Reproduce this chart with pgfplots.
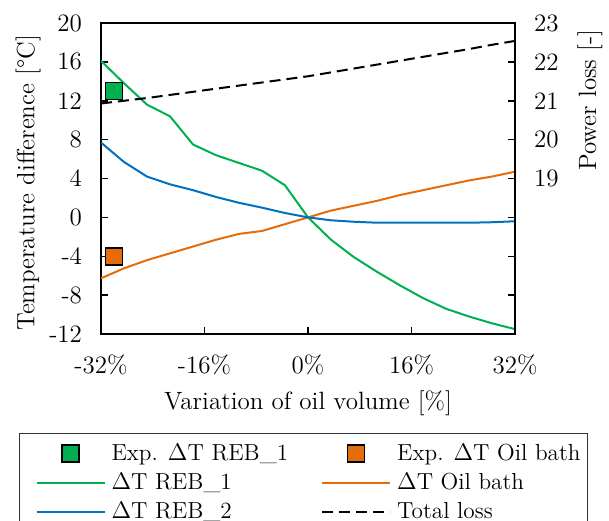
\documentclass[border=0pt]{standalone}
\usepackage{pgfplots}
\pgfplotsset{compat=1.18}
\usepackage{fontspec}
\definecolor{cgreen}{RGB}{0,176,80}
\definecolor{corange}{RGB}{228,108,10}
\definecolor{cblue}{RGB}{0,112,192}
\newcommand{\ff}{\fontsize{12.5}{15}\selectfont}
\newcommand{\lf}{\fontsize{11.6}{14}\selectfont}
\newcommand{\DT}{\ensuremath{\Delta}T}
\pgfplotsset{
  every axis/.append style={font=\ff},
  myaxis/.style={
    scale only axis, width=207pt, height=155.5pt,
    at={(0,0)}, anchor=south west,
    xmin=-32, xmax=32,
    tick align=inside,
    major tick length=3.5pt,
    axis line style={line width=0.75pt, black},
    every tick/.style={line width=0.75pt, black},
  },
  legend image code/.code={\path (0pt,0pt); \draw[mark repeat=2,mark phase=2,#1] plot coordinates {(7.5pt,0pt) (24.5pt,0pt) (41.5pt,0pt)};},
}
\begin{document}
\begin{tikzpicture}[font=\ff]
% --- left axis: simulated temperature differences
\begin{axis}[myaxis,
  ymin=-12, ymax=20,
  xtick={-32,-16,0,16,32},
  xticklabels={-32\%,-16\%,0\%,16\%,32\%},
  ytick={-12,-8,-4,0,4,8,12,16,20},
  yticklabels={-12,-8,-4,0,4,8,12,16,20},
  xtick pos=bottom, ytick pos=left,
  yticklabel style={xshift=-6pt, font=\ff},
  xticklabel style={yshift=-7pt, font=\ff},
  xlabel={Variation of oil volume [\%]},
  ylabel={Temperature difference [°C]},
  every axis x label/.style={at={(axis description cs:0.5,-0.222)}, anchor=center, font=\ff},
  every axis y label/.style={at={(axis description cs:-0.176,0.486)}, rotate=90, anchor=center, font=\ff},
]
\coordinate (SW) at (rel axis cs:0,0);
\addplot[cgreen, line width=1pt] coordinates {
(-32,16.1) (-28.444,13.8) (-24.889,11.6) (-21.333,10.4) (-17.778,7.5) (-14.222,6.4)
(-10.667,5.6) (-7.111,4.8) (-3.556,3.3) (0,0) (3.556,-2.3) (7.111,-4.1) (10.667,-5.6)
(14.222,-7.0) (17.778,-8.3) (21.333,-9.4) (24.889,-10.2) (28.444,-10.9) (32,-11.5)};
\addplot[corange, line width=1pt] coordinates {
(-32,-6.27) (-28.444,-5.24) (-24.889,-4.4) (-21.333,-3.7) (-17.778,-3.0) (-14.222,-2.3)
(-10.667,-1.7) (-7.111,-1.4) (-3.556,-0.7) (0,0) (3.556,0.7) (7.111,1.2) (10.667,1.7)
(14.222,2.3) (17.778,2.8) (21.333,3.3) (24.889,3.8) (28.444,4.2) (32,4.7)};
\addplot[cblue, line width=1pt] coordinates {
(-32,7.7) (-28.444,5.7) (-24.889,4.2) (-21.333,3.4) (-17.778,2.8) (-14.222,2.1)
(-10.667,1.5) (-7.111,1.0) (-3.556,0.45) (0,0) (3.556,-0.3) (7.111,-0.45) (10.667,-0.55)
(14.222,-0.55) (17.778,-0.55) (21.333,-0.55) (24.889,-0.55) (28.444,-0.5) (32,-0.4)};
\end{axis}
% --- right axis: total power loss
\begin{axis}[myaxis,
  axis x line=none, axis y line*=right,
  ymin=15, ymax=23,
  ytick={15,16,17,18,19,20,21,22,23},
  yticklabels={,,,,19,20,21,22,23},
  yticklabel style={xshift=6pt, font=\ff},
  ylabel={Power loss [-]},
  every axis y label/.style={at={(axis description cs:1.181,0.752)}, rotate=90, anchor=center, font=\ff},
]
\addplot[black, line width=1pt, dash pattern=on 5.5pt off 3pt] coordinates {
(-32,20.93) (-28.444,21.00) (-24.889,21.07) (-21.333,21.15) (-17.778,21.23) (-14.222,21.31)
(-10.667,21.39) (-7.111,21.47) (-3.556,21.55) (0,21.63) (3.556,21.73) (7.111,21.83)
(10.667,21.93) (14.222,22.03) (17.778,22.13) (21.333,22.23) (24.889,22.33) (28.444,22.44) (32,22.54)};
\end{axis}
% --- experiments and legend
\begin{axis}[myaxis, hide axis,
  ymin=-12, ymax=20,
  legend columns=2,
  legend cell align=left,
  legend style={at={(axis description cs:-0.198,-0.317)}, anchor=north west,
    draw=black!80, line width=0.5pt, font=\lf,
    inner xsep=0.5pt, inner ysep=3pt, row sep=0pt,
    nodes={inner xsep=3pt, inner ysep=1pt, text height=9.5pt, text depth=3pt, font=\lf},
    /tikz/every even column/.append style={column sep=6pt}},
]
\addplot[only marks, mark=square*, mark size=4.25pt, mark options={fill=cgreen, draw=black, line width=0.75pt}] coordinates {(-30,13)};
\addlegendentry{Exp. \DT{} REB\_1}
\addplot[only marks, mark=square*, mark size=4.25pt, mark options={fill=corange, draw=black, line width=0.75pt}] coordinates {(-30,-4)};
\addlegendentry{Exp. \DT{} Oil bath}
\addlegendimage{cgreen, line width=1pt}
\addlegendentry{\DT{} REB\_1}
\addlegendimage{corange, line width=1pt}
\addlegendentry{\DT{} Oil bath}
\addlegendimage{cblue, line width=1pt}
\addlegendentry{\DT{} REB\_2}
\addlegendimage{black, line width=1pt, dash pattern=on 5.5pt off 3pt}
\addlegendentry{Total loss}
\end{axis}
\pgfresetboundingbox
\path (SW) ++(-50.5pt,-93pt) rectangle ++(304.5pt,260pt);
\end{tikzpicture}
\end{document}
